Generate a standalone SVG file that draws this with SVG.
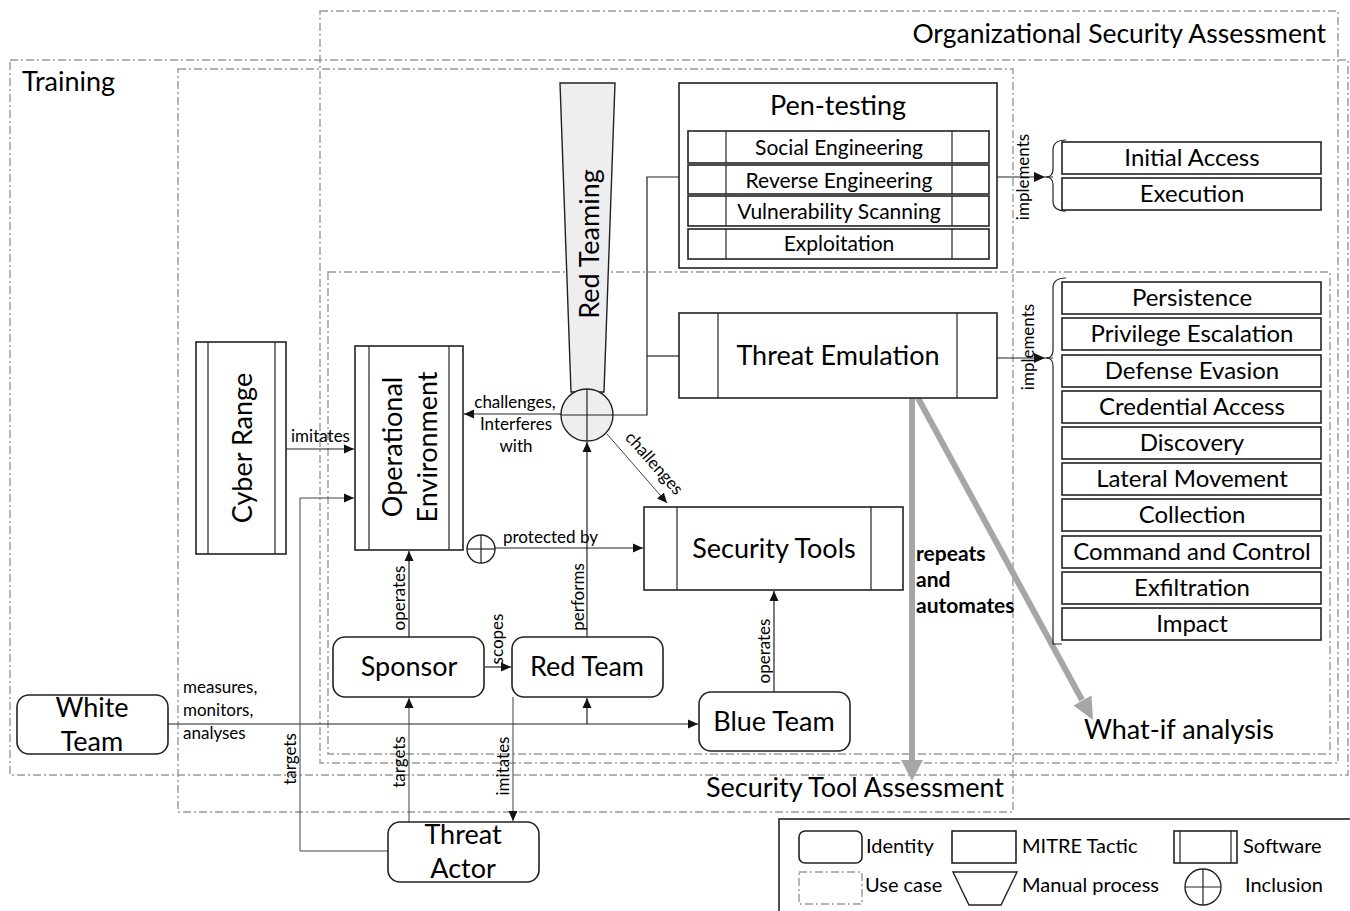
<svg xmlns="http://www.w3.org/2000/svg" width="1350" height="911" viewBox="0 0 1350 911">
<defs>
<style>
text{font-family:Lato,"Liberation Sans",sans-serif;fill:#000}
.uc{fill:none;stroke:#999;stroke-width:1.4;stroke-dasharray:8,3,2,3}
.box{fill:#fff;stroke:#222;stroke-width:1.6}
.ln{fill:none;stroke:#222;stroke-width:1.2}
.lg{fill:none;stroke:#444;stroke-width:1}
.big{font-size:27px}
.mid{font-size:24px}
.row{font-size:21px}
.sm{font-size:17px}
.leg{font-size:20px}
.c{text-anchor:middle}
.gray{fill:none;stroke:#a6a6a6;stroke-width:6}
.bold{font-size:21px;font-weight:bold}
</style>
<marker id="ah" markerWidth="10" markerHeight="10" refX="10" refY="5" orient="auto" markerUnits="userSpaceOnUse"><path d="M0,0.5 L10,5 L0,9.5 z" fill="#111"/></marker>
</defs>

<!-- use cases -->
<g id="uc-org"><rect class="uc" x="320" y="11" width="1018" height="752"/><text class="big" x="1326" y="43" text-anchor="end" style="font-size:26.5px">Organizational Security Assessment</text></g>
<g id="uc-training"><rect class="uc" x="10" y="60" width="1338" height="715"/><text class="big" x="22" y="91">Training</text></g>
<g id="uc-sta"><rect class="uc" x="178" y="69" width="835" height="743"/><text class="big c" x="855" y="797">Security Tool Assessment</text></g>
<g id="uc-whatif"><rect class="uc" x="328" y="272" width="1002" height="482"/><text class="big c" x="1179" y="739">What-if analysis</text></g>

<!-- connectors -->
<g id="connectors">
<polyline class="ln" points="613,415 647,415 647,177 679,177"/>
<line class="ln" x1="647" y1="356" x2="679" y2="356"/>
<line class="ln" x1="997" y1="177" x2="1053" y2="177"/>
<polygon points="1034,172 1045,177 1034,182" fill="#111"/>
<line class="ln" x1="997" y1="358" x2="1053" y2="358"/>
<polygon points="1034,353 1045,358 1034,363" fill="#111"/>
<text class="sm c" transform="translate(1029,177) rotate(-90)">implements</text>
<text class="sm c" transform="translate(1034,347) rotate(-90)">implements</text>
<line class="ln" x1="286" y1="449" x2="354" y2="449" marker-end="url(#ah)"/>
<text class="sm" x="291" y="442">imitates</text>
<line class="ln" x1="561" y1="414" x2="464" y2="414" marker-end="url(#ah)"/>
<text class="sm c" x="515" y="408">challenges,</text>
<text class="sm c" x="516" y="430">Interferes</text>
<text class="sm c" x="516" y="452">with</text>
<line class="lg" x1="607" y1="434" x2="667" y2="503" marker-end="url(#ah)"/>
<text class="sm c" transform="translate(650,467) rotate(48.5)">challenges</text>
<line class="ln" x1="495" y1="548" x2="643" y2="548" marker-end="url(#ah)"/>
<text class="sm" x="503" y="543">protected by</text>
<line class="ln" x1="409" y1="637" x2="409" y2="551" marker-end="url(#ah)"/>
<text class="sm c" transform="translate(405,598) rotate(-90)">operates</text>
<line class="ln" x1="485" y1="667" x2="511" y2="667" marker-end="url(#ah)"/>
<text class="sm c" transform="translate(503,639) rotate(-90)">scopes</text>
<line class="ln" x1="587" y1="637" x2="587" y2="442" marker-end="url(#ah)"/>
<text class="sm c" transform="translate(584,597) rotate(-90)">performs</text>
<line class="ln" x1="774" y1="692" x2="774" y2="591" marker-end="url(#ah)"/>
<text class="sm c" transform="translate(770,651) rotate(-90)">operates</text>
<line class="ln" x1="168" y1="724" x2="698" y2="724" marker-end="url(#ah)"/>
<line class="ln" x1="587" y1="724" x2="587" y2="698" marker-end="url(#ah)"/>
<text class="sm" x="183" y="693">measures,</text>
<text class="sm" x="183" y="716">monitors,</text>
<text class="sm" x="183" y="739">analyses</text>
<line class="lg" x1="409" y1="822" x2="409" y2="698" marker-end="url(#ah)"/>
<text class="sm c" transform="translate(405,762) rotate(-90)">targets</text>
<polyline class="lg" points="388,851 300,851 300,498 354,498" marker-end="url(#ah)"/>
<text class="sm c" transform="translate(296,759) rotate(-90)">targets</text>
<line class="lg" x1="513" y1="697" x2="513" y2="821" marker-end="url(#ah)"/>
<text class="sm c" transform="translate(509,766) rotate(-90)">imitates</text>
<line class="gray" x1="912" y1="398" x2="912" y2="762"/>
<polygon points="901,760 923,760 912,781" fill="#a6a6a6"/>
<line class="gray" x1="918" y1="398" x2="1082" y2="700"/>
<polygon points="1073.5,705.5 1091.5,695.5 1093,720" fill="#a6a6a6"/>
<text class="bold" x="916" y="561">repeats</text>
<text class="bold" x="916" y="587">and</text>
<text class="bold" x="916" y="613">automates</text>
</g>

<!-- Red Teaming manual process -->
<g id="red-teaming">
<polygon points="560,83 615,83 604,392 571,392" fill="#eeeeee" stroke="#222" stroke-width="1.4"/>
<text class="big c" transform="translate(599,244) rotate(-90)">Red Teaming</text>
</g>
<g id="inclusion-red">
<circle cx="587" cy="415" r="26" fill="#eeeeee" stroke="#222" stroke-width="1.4"/>
<line class="ln" x1="561" y1="415" x2="613" y2="415"/>
<line class="ln" x1="587" y1="389" x2="587" y2="441"/>
</g>

<g id="pen-testing">
<rect class="box" x="679" y="83" width="318" height="185"/>
<text class="big c" x="838" y="115">Pen-testing</text>
<rect class="box" x="688" y="131" width="301" height="32"/><line class="ln" x1="726" y1="131" x2="726" y2="163"/><line class="ln" x1="952" y1="131" x2="952" y2="163"/>
<text class="row c" x="839" y="155">Social Engineering</text>
<rect class="box" x="688" y="165" width="301" height="29"/><line class="ln" x1="726" y1="165" x2="726" y2="194"/><line class="ln" x1="952" y1="165" x2="952" y2="194"/>
<text class="row c" x="839" y="188">Reverse Engineering</text>
<rect class="box" x="688" y="196" width="301" height="30"/><line class="ln" x1="726" y1="196" x2="726" y2="226"/><line class="ln" x1="952" y1="196" x2="952" y2="226"/>
<text class="row c" x="839" y="219">Vulnerability Scanning</text>
<rect class="box" x="688" y="229" width="301" height="30"/><line class="ln" x1="726" y1="229" x2="726" y2="259"/><line class="ln" x1="952" y1="229" x2="952" y2="259"/>
<text class="row c" x="839" y="251">Exploitation</text>
</g>

<g id="threat-emulation">
<rect class="box" x="679" y="313" width="318" height="85"/>
<line class="ln" x1="718" y1="313" x2="718" y2="398"/><line class="ln" x1="957" y1="313" x2="957" y2="398"/>
<text class="big c" x="838" y="365">Threat Emulation</text>
</g>

<g id="bracket-1"><path class="ln" d="M1066,140 Q1053,140 1053,150 L1053,169 Q1053,177 1046,177 Q1053,177 1053,185 L1053,201 Q1053,211 1066,211"/></g>
<g id="tactic-initial-access"><rect class="box" x="1062" y="142" width="259" height="32"/><text class="mid c" x="1192" y="166">Initial Access</text></g>
<g id="tactic-execution"><rect class="box" x="1062" y="178" width="259" height="32"/><text class="mid c" x="1192" y="202">Execution</text></g>

<g id="bracket-2"><path class="ln" d="M1066,278 Q1053,278 1053,288 L1053,350 Q1053,358 1046,358 Q1053,358 1053,366 L1053,644 L1062,644"/></g>
<g id="tactic-persistence"><rect class="box" x="1062" y="282" width="259" height="32"/><text class="mid c" x="1192" y="306">Persistence</text></g>
<g id="tactic-privilege-escalation"><rect class="box" x="1062" y="318" width="259" height="32"/><text class="mid c" x="1192" y="342">Privilege Escalation</text></g>
<g id="tactic-defense-evasion"><rect class="box" x="1062" y="355" width="259" height="32"/><text class="mid c" x="1192" y="379">Defense Evasion</text></g>
<g id="tactic-credential-access"><rect class="box" x="1062" y="391" width="259" height="32"/><text class="mid c" x="1192" y="415">Credential Access</text></g>
<g id="tactic-discovery"><rect class="box" x="1062" y="427" width="259" height="32"/><text class="mid c" x="1192" y="451">Discovery</text></g>
<g id="tactic-lateral-movement"><rect class="box" x="1062" y="463" width="259" height="32"/><text class="mid c" x="1192" y="487">Lateral Movement</text></g>
<g id="tactic-collection"><rect class="box" x="1062" y="499" width="259" height="32"/><text class="mid c" x="1192" y="523">Collection</text></g>
<g id="tactic-c2"><rect class="box" x="1062" y="536" width="259" height="32"/><text class="mid c" x="1192" y="560">Command and Control</text></g>
<g id="tactic-exfiltration"><rect class="box" x="1062" y="572" width="259" height="32"/><text class="mid c" x="1192" y="596">Exfiltration</text></g>
<g id="tactic-impact"><rect class="box" x="1062" y="608" width="259" height="32"/><text class="mid c" x="1192" y="632">Impact</text></g>

<g id="cyber-range">
<rect class="box" x="196" y="342" width="90" height="212"/>
<line class="ln" x1="208" y1="342" x2="208" y2="554"/><line class="ln" x1="275" y1="342" x2="275" y2="554"/>
<text class="big c" transform="translate(252,448) rotate(-90)">Cyber Range</text>
</g>

<g id="operational-environment">
<rect class="box" x="355" y="346" width="108" height="204"/>
<line class="ln" x1="369" y1="346" x2="369" y2="550"/><line class="ln" x1="449" y1="346" x2="449" y2="550"/>
<text class="big c" transform="translate(402,447) rotate(-90)">Operational</text>
<text class="big c" transform="translate(437,447) rotate(-90)">Environment</text>
</g>

<g id="inclusion-protected">
<circle cx="481" cy="549" r="14" fill="#fff" stroke="#222" stroke-width="1.4"/>
<line class="ln" x1="467" y1="549" x2="495" y2="549"/>
<line class="ln" x1="481" y1="535" x2="481" y2="563"/>
</g>

<g id="security-tools">
<rect class="box" x="644" y="507" width="259" height="83"/>
<line class="ln" x1="677" y1="507" x2="677" y2="590"/><line class="ln" x1="871" y1="507" x2="871" y2="590"/>
<text class="big c" x="774" y="558">Security Tools</text>
</g>

<g id="sponsor"><rect class="box" x="333" y="637" width="151" height="60" rx="12"/><text class="big c" x="409" y="676">Sponsor</text></g>
<g id="red-team"><rect class="box" x="512" y="637" width="151" height="60" rx="12"/><text class="big c" x="587" y="676">Red Team</text></g>
<g id="blue-team"><rect class="box" x="699" y="692" width="151" height="59" rx="12"/><text class="big c" x="774" y="731">Blue Team</text></g>
<g id="white-team"><rect class="box" x="17" y="695" width="151" height="59" rx="12"/><text class="big c" x="92" y="717">White</text><text class="big c" x="92" y="751">Team</text></g>
<g id="threat-actor"><rect class="box" x="388" y="822" width="151" height="60" rx="12"/><text class="big c" x="463" y="844">Threat</text><text class="big c" x="463" y="878">Actor</text></g>

<g id="legend">
<rect x="779" y="819" width="580" height="100" fill="#fff" stroke="#222" stroke-width="1.6"/>
<rect class="box" x="799" y="831" width="63" height="32" rx="6"/>
<text class="leg" x="866" y="853">Identity</text>
<rect class="box" x="952" y="831" width="64" height="32"/>
<text class="leg" x="1022" y="853">MITRE Tactic</text>
<rect class="box" x="1174" y="831" width="63" height="32"/>
<line class="ln" x1="1180" y1="831" x2="1180" y2="863"/><line class="ln" x1="1231" y1="831" x2="1231" y2="863"/>
<text class="leg" x="1243" y="853">Software</text>
<rect class="uc" x="799" y="872" width="63" height="32"/>
<text class="leg" x="865" y="892">Use case</text>
<polygon points="953,872 1017,872 1001,905 969,905" fill="#fff" stroke="#222" stroke-width="1.4"/>
<text class="leg" x="1022" y="892">Manual process</text>
<circle cx="1203" cy="887" r="18" fill="#fff" stroke="#222" stroke-width="1.4"/>
<line class="ln" x1="1185" y1="887" x2="1221" y2="887"/><line class="ln" x1="1203" y1="869" x2="1203" y2="905"/>
<text class="leg" x="1245" y="892">Inclusion</text>
</g>
</svg>
